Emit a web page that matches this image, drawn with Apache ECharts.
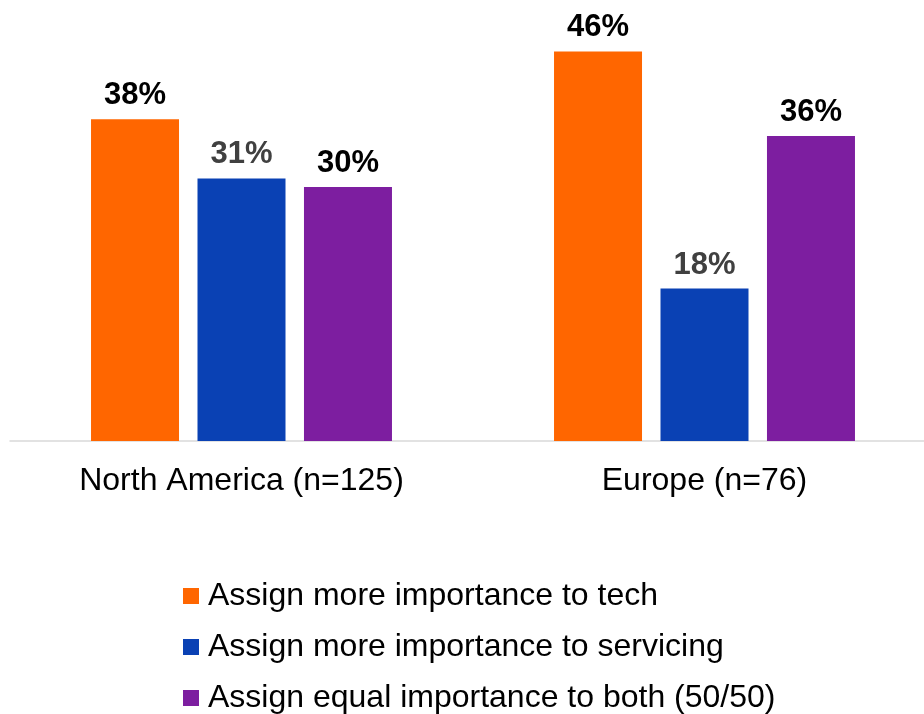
<!DOCTYPE html>
<html>
<head>
<meta charset="utf-8">
<title>Importance of tech vs servicing</title>
<script src="https://cdn.jsdelivr.net/npm/echarts@6/dist/echarts.min.js"></script>
<style>
  html, body { margin: 0; padding: 0; background: #ffffff; overflow: hidden; }
  /* canvas is a bit wider than the page so the axis line runs off the right edge */
  #chart { width: 936px; height: 714px; }
</style>
</head>
<body>
<div id="chart"></div>
<script>
// Regions surveyed
const categories = ['North America (n=125)', 'Europe (n=76)'];

// Share of respondents (%) per answer
const seriesNames = [
  'Assign more importance to tech',
  'Assign more importance to servicing',
  'Assign equal importance to both (50/50)'
];
const techValues = [38, 46];
const servicingValues = [31, 18];
const equalValues = [30, 36];

const colors = ['#ff6600', '#0a41b4', '#7d1ea0'];
const labelColors = ['#000000', '#404040', '#000000'];
const fontFamily = '"Liberation Sans", Arial, sans-serif';

const valueSets = [techValues, servicingValues, equalValues];

const chart = echarts.init(document.getElementById('chart'), null, { renderer: 'canvas' });

chart.setOption({
  animation: false,
  backgroundColor: '#ffffff',
  color: colors,
  grid: { left: 10, right: 0, top: 17.5, bottom: 273, containLabel: false },
  xAxis: {
    type: 'category',
    data: categories,
    axisLine: { show: true, lineStyle: { color: '#d9d9d9', width: 1.5 } },
    axisTick: { show: false },
    axisLabel: { color: '#000000', fontSize: 32, fontFamily: fontFamily, margin: 24 }
  },
  yAxis: {
    type: 'value',
    min: 0,
    max: 50,
    show: false,
    splitLine: { show: false }
  },
  legend: {
    orient: 'vertical',
    left: 183,
    top: 580,
    height: 134,
    padding: 0,
    itemWidth: 16,
    itemHeight: 16,
    itemGap: 19,
    icon: 'rect',
    textStyle: { color: '#000000', fontSize: 32, fontFamily: fontFamily, lineHeight: 32, padding: [0, 0, 0, 4] },
    data: seriesNames
  },
  series: seriesNames.map((name, i) => ({
    name: name,
    type: 'bar',
    data: valueSets[i],
    barWidth: 88,
    barGap: '21%',
    itemStyle: { color: colors[i] },
    label: {
      show: true,
      position: 'top',
      distance: 8,
      formatter: '{c}%',
      color: labelColors[i],
      fontSize: 31,
      fontWeight: 'bold',
      fontFamily: fontFamily
    }
  }))
});
</script>
</body>
</html>
